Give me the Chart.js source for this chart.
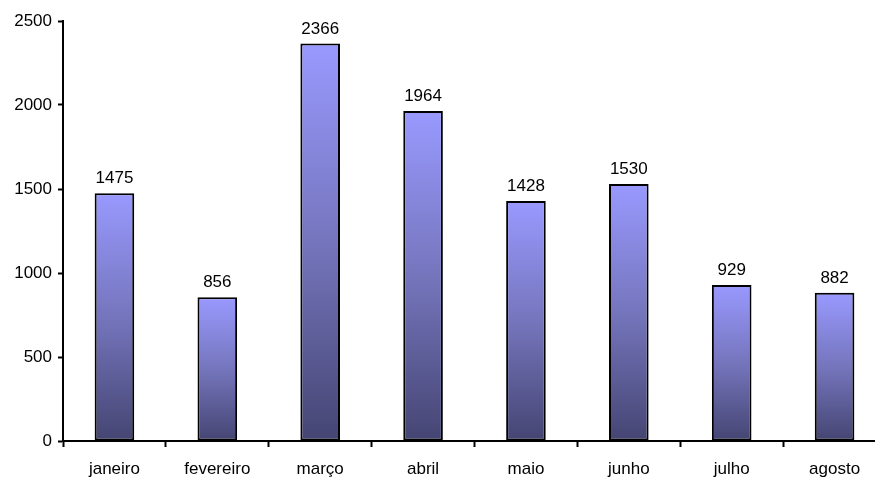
<!DOCTYPE html>
<html>
<head>
<meta charset="utf-8">
<script src="https://cdn.jsdelivr.net/npm/chart.js@4.4.1/dist/chart.umd.min.js"></script>
<style>
  html, body { margin: 0; padding: 0; background: #ffffff; overflow: hidden; }
  #wrap { position: absolute; left: 0; top: 0; width: 886px; height: 480px; }
</style>
</head>
<body>
<div id="wrap"><canvas id="chart" width="886" height="480"></canvas></div>
<script>
// Monthly totals
const months = ['janeiro', 'fevereiro', 'março', 'abril', 'maio', 'junho', 'julho', 'agosto'];
const totals = [1475, 856, 2366, 1964, 1428, 1530, 929, 882];
const yTicks = [0, 500, 1000, 1500, 2000, 2500];

const FONT = { family: '"Liberation Sans", Arial, sans-serif', size: 17 };

// Each bar gets its own vertical gradient, light at its top, dark at its base.
// Options objects are shared between bars, so each bar gets a private copy.
const barGradient = {
  id: 'barGradient',
  beforeDatasetsDraw(chart) {
    const ctx = chart.ctx;
    chart.getDatasetMeta(0).data.forEach(bar => {
      const g = ctx.createLinearGradient(0, bar.y, 0, bar.base);
      g.addColorStop(0, '#9999ff');
      g.addColorStop(0.5, '#7575bd');
      g.addColorStop(1, '#454573');
      bar.options = Object.assign({}, bar.options, { backgroundColor: g });
    });
  }
};

// Value printed above each bar
const valueLabels = {
  id: 'valueLabels',
  afterDatasetsDraw(chart) {
    const ctx = chart.ctx;
    const ds = chart.data.datasets[0];
    ctx.save();
    ctx.font = FONT.size + 'px ' + FONT.family;
    ctx.fillStyle = '#000';
    ctx.textAlign = 'center';
    ctx.textBaseline = 'alphabetic';
    chart.getDatasetMeta(0).data.forEach((bar, i) => {
      ctx.fillText(String(ds.data[i]), bar.x, bar.y - 10);
    });
    ctx.restore();
  }
};

new Chart(document.getElementById('chart'), {
  type: 'bar',
  data: {
    labels: months,
    datasets: [{
      data: totals,
      backgroundColor: '#7777cc',
      borderColor: '#000',
      borderWidth: 2,
      borderSkipped: false,
      categoryPercentage: 1,
      barPercentage: 0.385
    }]
  },
  options: {
    responsive: false,
    devicePixelRatio: 1,
    animation: false,
    layout: { padding: { top: 21, right: 0, bottom: 0, left: 0 } },
    plugins: {
      legend: { display: false },
      tooltip: { enabled: false },
      title: { display: false }
    },
    scales: {
      x: {
        offset: true,
        grid: {
          offset: true,
          drawOnChartArea: false,
          drawTicks: true,
          tickLength: 6,
          tickWidth: 2,
          color: '#000'
        },
        border: { display: true, color: '#000', width: 2 },
        ticks: { color: '#000', font: FONT, padding: 12, maxRotation: 0, autoSkip: false },
        afterFit(scale) { scale.height = 480 - 441; }
      },
      y: {
        min: 0,
        max: 2500,
        afterBuildTicks(scale) { scale.ticks = yTicks.map(v => ({ value: v })); },
        grid: {
          drawOnChartArea: false,
          drawTicks: true,
          tickLength: 5,
          tickWidth: 2,
          color: '#000'
        },
        border: { display: true, color: '#000', width: 2 },
        ticks: { color: '#000', font: FONT, padding: 6, callback: v => String(v) },
        afterFit(scale) { scale.width = 63; }
      }
    }
  },
  plugins: [barGradient, valueLabels]
});
</script>
</body>
</html>
